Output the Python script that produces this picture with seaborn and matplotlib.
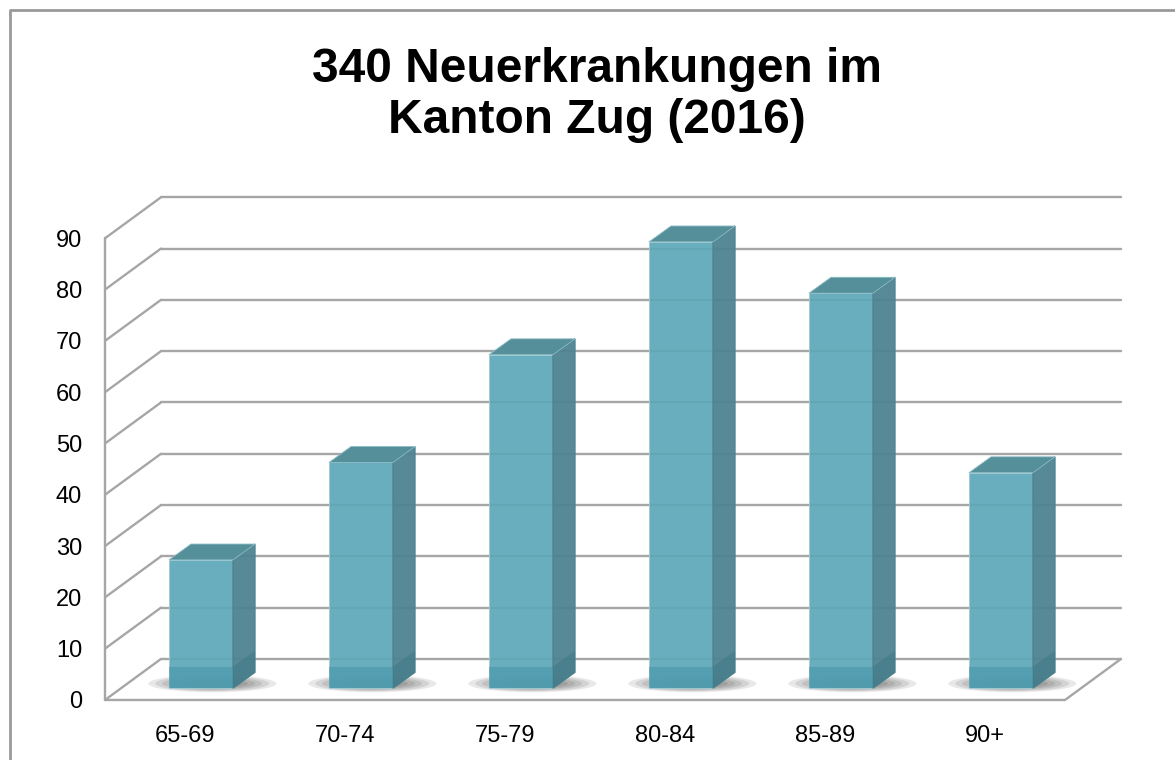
import matplotlib
matplotlib.use("Agg")
import matplotlib.pyplot as plt
import seaborn as sns
import pandas as pd
from matplotlib.patches import Polygon, Rectangle, Ellipse
from matplotlib.lines import Line2D

age_groups = ["65-69", "70-74", "75-79", "80-84", "85-89", "90+"]
cases = [25, 44, 65, 87, 77, 42]
y_ticks = [0, 10, 20, 30, 40, 50, 60, 70, 80, 90]
title = "340 Neuerkrankungen im\nKanton Zug (2016)"

sns.set_style("white")
plt.rcParams["font.family"] = ["Liberation Sans", "DejaVu Sans"]
plt.rcParams["text.color"] = "black"
plt.rcParams["xtick.color"] = "black"
plt.rcParams["ytick.color"] = "black"

fig = plt.figure(figsize=(11.75, 7.6), dpi=100)
ax = fig.add_axes([89/1175, 1 - 705.1/760, 1056/1175, (705.1 - 187)/760])

df = pd.DataFrame({"age": age_groups, "n": cases})

# bars first so ax.patches only holds the bars
sns.barplot(data=df, x="age", y="n", color="#5ea8b9", saturation=1, width=0.4,
            ax=ax, zorder=4, alpha=0.93, edgecolor="#9fcbd5", linewidth=0.7)
bars = list(ax.patches)

# fake 3d box: depth offset in data units
dx, dy = 0.35, 8.0
x0, x1 = -0.5, len(age_groups) - 0.5
grid_col = "#a6a6a6"
lw = 1.7

for v in y_ticks:
    ax.plot([x0 + dx, x1 + dx], [v + dy, v + dy], color=grid_col, lw=lw, zorder=1)
    ax.plot([x0, x0 + dx], [v, v + dy], color=grid_col, lw=lw, zorder=1)
ax.plot([x0, x0], [0, y_ticks[-1]], color=grid_col, lw=lw, zorder=1)
ax.plot([x0, x1, x1 + dx], [0, 0, dy], color=grid_col, lw=lw, zorder=1)

fx, fy = 0.1, 2.3      # front face sits inside the floor
bx, by = 0.1375, 3.1   # depth of each bar
for p in bars:
    p.set_x(p.get_x() + fx)
    p.set_y(fy)
    x, w, h = p.get_x(), p.get_width(), p.get_height()
    top = fy + h
    # soft shadow on the floor
    for k in range(7):
        s = 1 - k * 0.11
        ax.add_patch(Ellipse((x + w / 2 + 0.07, fy + 0.9), (w + 0.4) * s, 3.4 * s,
                             color="#202020", alpha=0.1, lw=0, zorder=2))
    side = Polygon([(x + w, fy), (x + w + bx, fy + by), (x + w + bx, top + by), (x + w, top)],
                   closed=True, facecolor="#4e8490", edgecolor="#4e8490", alpha=0.95, zorder=4)
    lid = Polygon([(x, top), (x + bx, top + by), (x + w + bx, top + by), (x + w, top)],
                  closed=True, facecolor="#558f9a", edgecolor="#8cbcc6", lw=0.6, zorder=5)
    ax.add_patch(side)
    ax.add_patch(lid)
    # darker band near the bottom of the bar
    ax.add_patch(Rectangle((x, fy), w, 4.2, facecolor="#4795a9", alpha=0.6, lw=0, zorder=4))
    ax.add_patch(Polygon([(x + w, fy), (x + w + bx, fy + by), (x + w + bx, fy + by + 4.2), (x + w, fy + 4.2)],
                         closed=True, facecolor="#3f7785", alpha=0.5, lw=0, zorder=4))

ax.set_xlim(-0.6, 6.0)
ax.set_ylim(-1, 100)
ax.set_yticks(y_ticks)
ax.set_xlabel("")
ax.set_ylabel("")
sns.despine(ax=ax, left=True, bottom=True)
ax.tick_params(axis="y", length=0, labelsize=17, pad=5)
ax.tick_params(axis="x", length=0, labelsize=17, pad=14)

fig.add_artist(Line2D([10/1175, 10/1175, 1], [0, 1 - 10/760, 1 - 10/760],
                      color="#999999", lw=2, transform=fig.transFigure))
fig.text(0.508, 1 - 95/760, title, ha="center", va="center", fontsize=34.5,
         fontweight="bold", linespacing=1.15)

fig.savefig("out.png", dpi=100)
